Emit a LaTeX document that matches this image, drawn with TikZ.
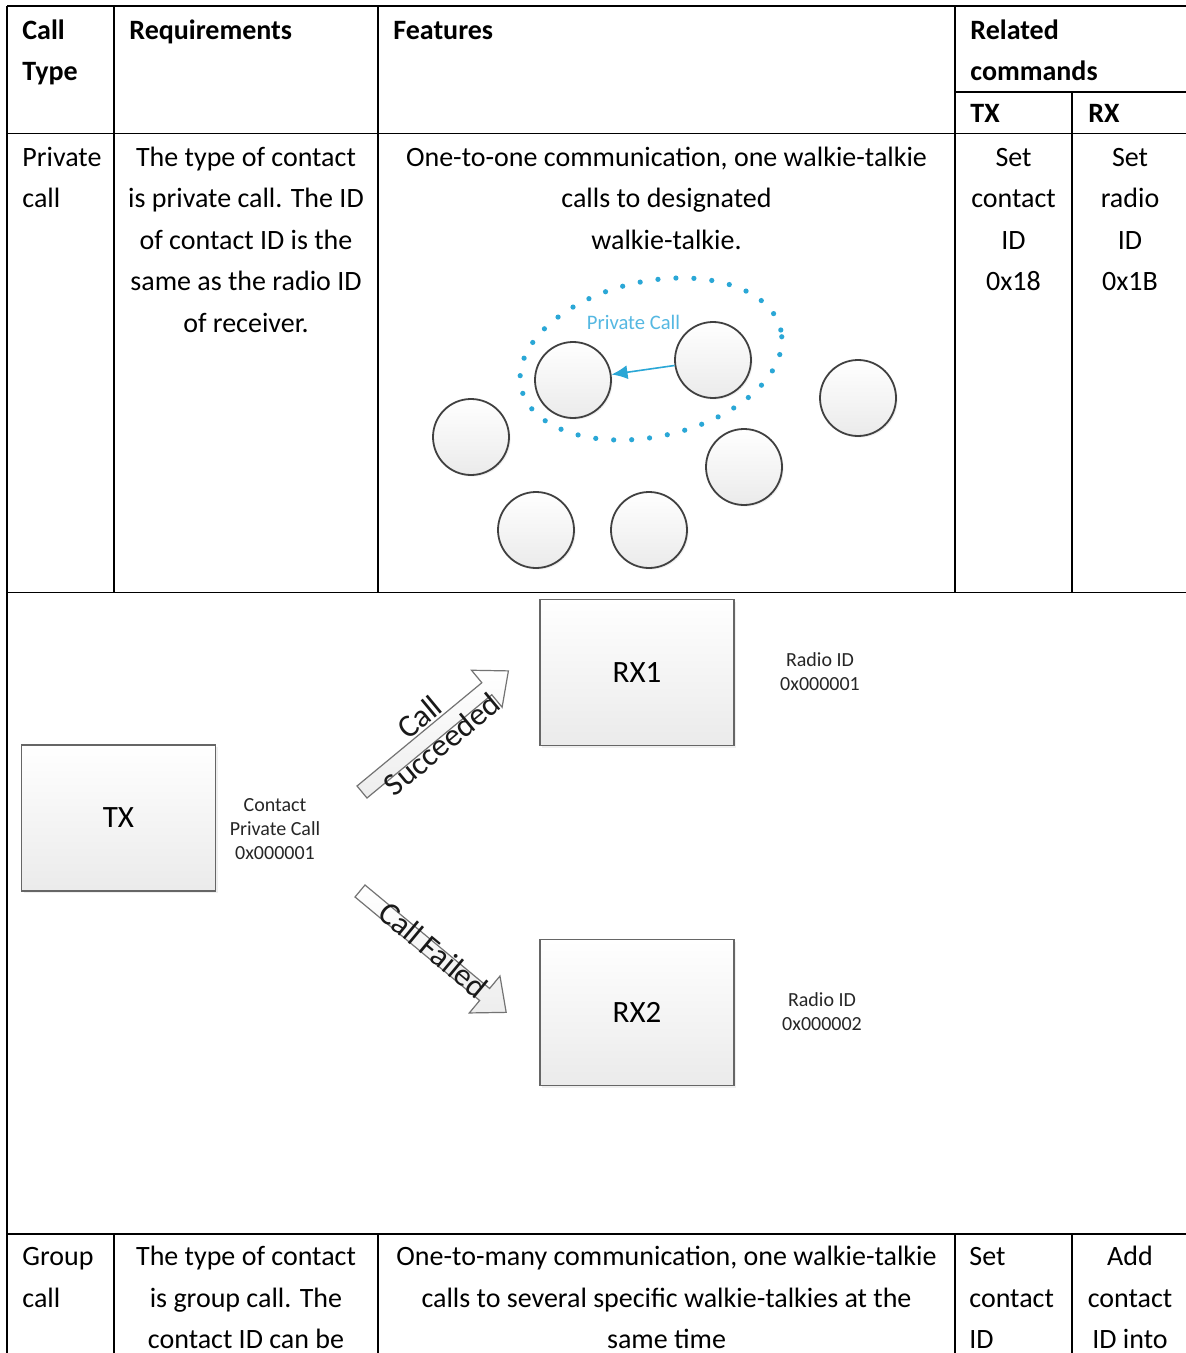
\documentclass[tikz,border=0pt]{standalone}
\usepackage{fontspec}
\setmainfont{Carlito}
\usetikzlibrary{arrows.meta,shadows}
\definecolor{callblue}{HTML}{2AA7D6}
\definecolor{labelblue}{HTML}{55B8E2}
\newcommand{\tabfont}{\fontsize{14}{20.75}\selectfont}
\newcommand{\fstrut}{\rule{0pt}{10.5pt}}
\begin{document}
\begin{tikzpicture}[x=0.5pt,y=-0.5pt,
  tabline/.style={line width=0.7pt, black},
  ccell/.style={font=\tabfont, inner sep=0pt, align=center, anchor=north},
  lcell/.style={font=\tabfont, inner sep=0pt, align=left, anchor=north west},
  hcell/.style={font=\tabfont\bfseries, inner sep=0pt, align=left, anchor=north west},
  radio/.style={circle, draw=black!75, line width=0.9pt, top color=white, bottom color=black!8, minimum size=38pt, inner sep=0pt, drop shadow={opacity=0.12, shadow xshift=0.8pt, shadow yshift=-0.8pt}},
  unit/.style={draw=black!60, line width=0.6pt, top color=white, bottom color=black!8, minimum width=97pt, minimum height=73pt, inner sep=0pt, font=\fontsize{15.5}{18}\selectfont, drop shadow={opacity=0.12, shadow xshift=1pt, shadow yshift=-1pt}},
  small/.style={font=\fontsize{10}{12}\selectfont, align=center, inner sep=0pt, text=black!85},
  blockarrow/.style={draw=black!55, line width=0.6pt, top color=white, bottom color=black!7, line join=miter},
  arrowtext/.style={font=\fontsize{16}{17.5}\selectfont, align=center, inner sep=0pt, transform shape, text=black!90}
]
\useasboundingbox (0,0) rectangle (1186,1353);
\fill[white] (0,0) rectangle (1186,1353);

% ---------- table rules ----------
\draw[tabline] (7,6) -- (1186,6);
\draw[tabline] (7,6) -- (7,1353);
\draw[tabline] (955,92) -- (1186,92);
\draw[tabline] (7,133.5) -- (1186,133.5);
\draw[tabline] (7,592.5) -- (1186,592.5);
\draw[tabline] (7,1234) -- (1186,1234);
\foreach \xx in {114,378,955} \draw[tabline] (\xx,6) -- (\xx,592.5);
\draw[tabline] (1072,92) -- (1072,592.5);
\foreach \xx in {114,378,955,1072} \draw[tabline] (\xx,1234) -- (\xx,1353);

% ---------- header ----------
\node[hcell] (hcall) at (22,18) {\fstrut Call\\Type};
\node[hcell] (hreq) at (129,18) {\fstrut Requirements};
\node[hcell] (hfeat) at (393,18) {\fstrut Features};
\node[hcell] (hrel) at (970,18) {\fstrut Related\\commands};
\node[hcell] (htx) at (970,101.5) {\fstrut TX};
\node[hcell] (hrx) at (1088,101.5) {\fstrut RX};

% ---------- private call row ----------
\node[lcell] (pc1) at (22,145) {\fstrut Private\\call};
\node[ccell] (pc2) at (246,145) {\fstrut The type of contact\\is private call. The ID\\of contact ID is the\\same as the radio ID\\of receiver.};
\node[ccell] (pc3) at (666.5,145) {\fstrut One-to-one communication, one walkie-talkie\\calls to designated\\walkie-talkie.};
\node[ccell] (pc4) at (1013.5,145) {\fstrut Set\\contact\\ID\\0x18};
\node[ccell] (pc5) at (1130,145) {\fstrut Set\\radio\\ID\\0x1B};

% ---------- radios picture ----------
\draw[callblue, line width=2.6pt, line cap=round, dash pattern=on 0pt off 9pt,
      rotate around={12.6:(651,359)}] (651,359) ellipse [x radius=66.5pt, y radius=38.75pt];
\node[radio] (c1) at (573,380) {};
\node[radio] (c2) at (713,360) {};
\node[radio] (c3) at (858,398) {};
\node[radio] (c4) at (471,437) {};
\node[radio] (c5) at (744,467) {};
\node[radio] (c6) at (536,530) {};
\node[radio] (c7) at (649,530) {};
\node[font=\fontsize{10.3}{12}\selectfont, text=labelblue, inner sep=0pt] (pcl) at (633.5,322) {Private Call};
\draw[callblue, line width=0.8pt, -{Latex[length=8pt,width=7pt]}] (c2) -- (c1);

% ---------- TX / RX diagram ----------
\node[unit] (tx) at (118.5,818) {TX};
\node[unit] (rx1) at (637,672.5) {RX1};
\node[unit] (rx2) at (637,1012.5) {RX2};
\node[small] (txl) at (275,829) {Contact\\Private Call\\0x000001};
\node[small] (rx1l) at (820,672) {Radio ID\\0x000001};
\node[small] (rx2l) at (822,1012) {Radio ID\\0x000002};

\begin{scope}[shift={(362,792)}, rotate=39.6]
  \draw[blockarrow] (0pt,-3.9pt) -- (81pt,-3.9pt) -- (81pt,-12pt) -- (95pt,0pt) -- (81pt,12pt) -- (81pt,3.9pt) -- (0pt,3.9pt) -- cycle;
  \node[arrowtext] (succ) at (46pt,1.8pt) {Call\\Succeeded};
\end{scope}
\begin{scope}[shift={(360,891)}, rotate=-39.7]
  \draw[blockarrow] (0pt,-3.9pt) -- (81pt,-3.9pt) -- (81pt,-12pt) -- (95pt,0pt) -- (81pt,12pt) -- (81pt,3.9pt) -- (0pt,3.9pt) -- cycle;
  \node[arrowtext] (fail) at (47pt,1pt) {Call Failed};
\end{scope}

% ---------- group call row ----------
\node[lcell] (gc1) at (22,1244.5) {\fstrut Group\\call};
\node[ccell] (gc2) at (246,1244.5) {\fstrut The type of contact\\is group call. The\\contact ID can be};
\node[ccell] (gc3) at (666.5,1244.5) {\fstrut One-to-many communication, one walkie-talkie\\calls to several specific walkie-talkies at the\\same time};
\node[lcell] (gc4) at (969,1244.5) {\fstrut Set\\contact\\ID};
\node[ccell] (gc5) at (1130,1244.5) {\fstrut Add\\contact\\ID into};
\end{tikzpicture}
\end{document}
